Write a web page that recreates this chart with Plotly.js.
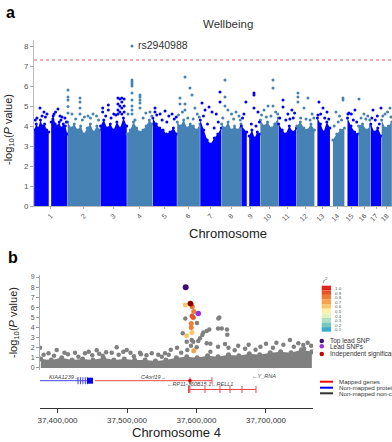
<!DOCTYPE html>
<html><head><meta charset="utf-8">
<script src="https://cdn.plot.ly/plotly-3.0.1.min.js"></script>
<style>html,body{margin:0;padding:0;background:#fff}#chart{width:392px;height:442px}</style>
</head><body><div id="chart"></div>
<script>
// ================= Panel a : Manhattan plot (Wellbeing) =================
const chrNames = ['1','2','3','4','5','6','7','8','9','10','11','12','13','14','15','16','17','18'];
const chrLengthMb = [249.25,243.2,198.0,191.15,180.9,171.1,159.1,146.4,141.2,135.5,135.0,133.9,115.2,107.3,102.5,90.4,81.2,78.1];
// dense band of SNPs: segments (chromosome, start, end in Mb) and the top of the dense cloud along each
const segChr     = [1,1,2,3,4,5,6,7,8,9,9,10,11,12,13,14,15,16,17,18];
const segStartMb = [0,126,0,0,0,0,0,0,0,0,58,0,0,0,19,19,20,0,0,0];
const segEndMb   = [111,249.25,243.2,198,191.15,180.9,171.1,159.1,146.4,43,141.2,135.5,135,133.9,115.2,107.3,102.5,90.4,81.2,78.1];
const segBandTop = [
  [3.8,4.1,3.9,4.3,4.0,4.1,3.8,3.7],
  [4.2,4.5,4.1,4.0,4.2,3.9,4.1,4.0,3.6],
  [4.2,3.9,4.1,3.8,4.0,3.6,3.9,4.1,3.7,4.0,3.8],
  [4.0,4.3,3.9,4.1,3.8,4.2,3.9,4.4,4.0],
  [3.6,3.8,4.2,3.9,3.7,3.8,4.0,4.3,4.1],
  [4.4,4.1,3.9,3.8,3.6,3.7,3.9,3.6],
  [4.2,4.0,4.3,3.9,4.1,4.0,3.8,4.1],
  [4.3,3.8,3.3,3.1,3.4,3.6,3.9],
  [4.1,3.9,4.2,3.8,4.0,3.8,4.1],
  [4.0,3.7],
  [3.5,3.8,3.4,3.7,3.6],
  [4.3,4.0,4.2,3.9,4.1,4.4],
  [4.1,3.8,3.6,4.0,3.7,3.9],
  [4.0,4.2,3.9,3.8,4.1,3.8],
  [4.4,4.1,3.7,4.2,3.9],
  [3.3,3.6,3.8,3.9],
  [4.4,4.0,3.7,3.6],
  [4.0,4.1,3.8,4.0],
  [4.1,3.7,3.9,3.5],
  [4.3,3.9,4.0,4.2]
];
// individual SNPs standing above the dense band (per chromosome)
const hitPosMb = [
  [22,44.6,74,96.6,148.6,178,193,208,60,160,230,10,85,140,200,240],
  [3.3,3.3,3.3,3.3,3.3,92.5,92.5,92.5,92.5,33,152,189,125,215,60,110,170,230],
  [17.9,17.9,59.5,59.5,100,131,131,131,131,145,145,145,160,160,160,160,177,177,177,40,80,115],
  [37.6,37.6,37.6,37.6,37.6,37.6,37.6,37.6,37.6,37.6,96.8,96.8,96.8,96.8,96.8,171,8,140,60,120,185],
  [17.5,17.5,54.7,91.8,143.9,30,120,70,105,160,175],
  [59,96,111,22,22,133,59,59,150,40,10,80,120,165],
  [148,148,14.4,66.4,89,37,120,25,55,105,135],
  [26,26,26,48,108,75,10,90,130,140],
  [35,95,95,95,125,20,10,75,110,135],
  [95,95,95,58,28,115,10,45,80,130],
  [34,34,100,70,120,10,55,85,110],
  [10,10,10,84,55,115,30,70,100,128],
  [32,62,92,45,25,75,105],
  [95.5,95.5,43,70,30,60,85],
  [33,77,50,25,65,90],
  [4.5,41,70,20,55,85],
  [18,77.5,50,10,35,65],
  [63,26,45,10,70]
];
const hitLogP = [
  [4.4,4.9,4.7,4.6,4.6,4.85,4.5,4.45,4.5,4.7,4.4,4.3,4.45,4.35,4.3,4.2],
  [5.8,5.45,5.3,4.97,4.65,5.4,5.2,4.9,4.6,4.6,4.5,4.6,4.45,4.5,4.35,4.3,4.4,4.3],
  [4.9,4.7,5.05,4.8,4.6,5.4,5.1,4.8,4.6,5.35,5.0,4.7,5.4,5.2,4.9,4.6,5.35,5.0,4.7,4.5,4.4,4.55],
  [8.0,6.3,6.2,6.1,6.0,5.65,5.3,5.0,4.8,4.6,5.55,5.45,5.3,5.15,4.9,4.7,4.6,4.65,4.3,4.4,4.5],
  [4.9,4.7,4.6,4.75,4.6,4.55,4.5,4.3,4.2,4.35,4.45],
  [6.45,5.9,5.55,5.4,5.1,4.9,5.1,4.8,4.6,4.7,4.55,4.4,4.35,4.45],
  [5.7,5.2,5.15,4.95,4.7,4.8,4.6,4.5,4.1,3.9,4.2],
  [6.3,5.45,5.0,4.8,4.7,4.6,4.4,4.35,4.5,4.3],
  [5.2,5.65,5.55,4.9,4.7,4.6,4.4,4.1,4.0,4.2],
  [6.3,5.9,5.0,5.0,4.8,4.7,4.55,4.45,4.5,4.6],
  [5.3,4.95,4.8,4.6,4.65,4.4,4.3,4.35,4.4],
  [5.65,5.45,5.2,5.4,4.9,4.6,4.4,4.35,4.3,4.4],
  [5.2,4.9,4.7,4.6,4.55,4.4,4.35],
  [5.4,5.3,4.7,4.5,4.0,4.2,4.3],
  [4.65,4.8,4.6,4.6,4.3,4.2],
  [5.35,4.6,4.5,4.4,4.35,4.3],
  [4.8,4.9,4.5,4.4,4.3,4.1],
  [4.9,4.6,4.7,4.5,4.45]
];
const leadSnpName = 'rs2940988';
const leadSnpChr = 4, leadSnpPosMb = 37.6, leadSnpLogP = 8.0;
const genomeWideLogP = 7.3;

// ================= Panel b : regional plot chr4 =================
const bandPosBp = [37376000,37391000,37406000,37421000,37436000,37451000,37466000,37481000,37496000,37511000,37526000,37541000,37556000,37571000,37586000,37601000,37616000,37631000,37646000,37661000,37676000,37691000,37706000,37721000,37736000,37751000,37766000];
const bandLogP  = [0.9,0.8,1.0,0.8,0.9,0.8,1.0,0.8,0.9,0.8,0.8,0.7,0.8,1.0,1.1,1.0,1.2,1.1,1.3,1.2,1.4,1.3,1.5,1.6,1.5,1.8,1.6];
const grayPosBp = [37374800,37398850,37456400,37485200,37494700,37499600,37478000,37535600,37425200,37439600,37518700,37554700,37580200,37583900,37600700,37593100,37585900,37602600,37614700,37586800,37600300,37605000,37608400,37609800,37614700,37618400,37631400,37632800,37631000,37636300,37643900,37644300,37641000,37595400,37734500,37746500,37753700,37660000,37675000,37692000,37646000,37631000,37620000,37592000,37572000,37563000,37410000,37460000,37520000,37700000,37715000,37725000,37760000,37387000,37445000,37470000,37505000,37545000,
  37380000,37395000,37415000,37430000,37450000,37465000,37488000,37510000,37528000,37550000,37560000,37578000,37620000,37655000,37670000,37685000,37710000,37740000,37755000,37765000];
const grayLogP  = [2.0,1.78,1.75,2.05,1.6,1.78,1.5,1.45,1.5,1.45,1.5,1.45,3.43,4.9,4.45,2.77,2.6,2.67,2.45,1.78,2.05,2.94,3.27,3.5,3.66,3.8,4.9,5.0,3.9,3.9,3.8,3.3,2.38,2.6,2.77,2.45,2.28,2.2,2.3,2.1,2.0,2.1,2.4,2.2,2.0,1.8,1.5,1.4,1.35,2.4,2.5,2.3,2.5,1.45,1.6,1.55,1.5,1.3,
  1.3,1.2,1.35,1.1,1.25,1.2,1.3,1.15,1.25,1.1,1.3,1.5,1.6,1.75,1.9,1.8,2.0,2.1,1.9,2.2];
const ldPosBp = [37583900,37594000,37596000,37593500,37595400,37592500,37592500,37593500,37585900,37596000,37592400];
const ldLogP  = [6.24,6.07,5.6,5.15,5.0,4.4,4.0,3.5,3.2,1.7,6.3];
const ldR2    = [0.6,0.8,0.8,0.9,0.9,0.8,0.8,0.6,0.6,0.7,1.0];
const indepPosBp = [37591100], indepLogP = [6.37];
const leadPosBp  = [37602600], leadLogP  = [5.38];
const topPosBp   = [37584450], topLogP   = [8.0];
const r2Levels = [1.0,0.9,0.8,0.7,0.6,0.5,0.4,0.3,0.2,0.1];
const r2Colors = ['#e2231a','#e9532a','#f07d34','#f5a24a','#f9c66c','#fdf0a8','#e4f3bd','#afdfc0','#74c7c2','#3aaccc'];
// genes
const geneName    = ['KIAA1239','C4orf19','RP11-360B15.1','RELL1','Y_RNA'];
const geneStartBp = [37374820,37453960,37588500,37589200,37697000];
const geneEndBp   = [37443880,37622300,37590500,37685610,37697300];
const geneStrand  = ['+','+','-','-','-'];
const geneRow     = [1,1,2,2,1];
const geneClass   = ['protein','mapped','mapped','mapped','noncoding'];
const geneExonsBp = [[37429500,37433000,37436500,37440000,37443000],[37590650,37622300],[37588500,37590500],[37589200,37612230,37633810,37648200,37665470,37685610],[]];
const geneBigExonBp = [[37446760],[37590650],[],[],[]];
const xTicksBp = [37400000,37500000,37600000,37700000];

// ================= build =================
const W = 392, H = 442;
const px = x => x / W, py = y => 1 - y / H;
const FONT = 'Liberation Sans, Arial, sans-serif';
const BLUE = '#0000ff', STEEL = '#4682b4';
const chrCum = []; let acc = 0;
chrLengthMb.forEach((l, i) => { chrCum.push(acc); acc += l; });
const genomeEnd = acc;
const chrColor = c => (c % 2 === 1 ? BLUE : STEEL);

const traces = [];
segChr.forEach((c, s) => {
  const vals = segBandTop[s];
  const a = segStartMb[s] + 1.5, b = segEndMb[s] - 1.5;
  const xs = vals.map((v, i) => chrCum[c - 1] + a + (b - a) * i / (vals.length - 1));
  traces.push({type: 'scatter', mode: 'lines+markers', x: xs, y: vals, xaxis: 'x', yaxis: 'y',
    fill: 'tozeroy', fillcolor: chrColor(c), line: {width: 0, color: chrColor(c)},
    marker: {size: 3, color: chrColor(c)}, hoverinfo: 'skip'});
});
[1, 0].forEach(par => {
  const xs = [], ys = [];
  hitPosMb.forEach((arr, i) => {
    if ((i + 1) % 2 !== par) return;
    arr.forEach((p, j) => { xs.push(chrCum[i] + p); ys.push(hitLogP[i][j]); });
  });
  traces.push({type: 'scatter', mode: 'markers', x: xs, y: ys, xaxis: 'x', yaxis: 'y',
    marker: {size: 3, color: par === 1 ? BLUE : STEEL}, cliponaxis: false, hoverinfo: 'skip'});
});

// panel b
const GRAY = '#808080';
traces.push({type: 'scatter', mode: 'lines+markers', x: bandPosBp, y: bandLogP, xaxis: 'x2', yaxis: 'y2',
  fill: 'tozeroy', fillcolor: GRAY, line: {width: 0, color: GRAY}, marker: {size: 5, color: GRAY}, hoverinfo: 'skip'});
traces.push({type: 'scatter', mode: 'markers', x: grayPosBp, y: grayLogP, xaxis: 'x2', yaxis: 'y2',
  marker: {size: 4.5, color: GRAY}, hoverinfo: 'skip'});
const r2Color = r => r2Colors[r2Levels.indexOf(r)];
traces.push({type: 'scatter', mode: 'markers', x: ldPosBp, y: ldLogP, xaxis: 'x2', yaxis: 'y2',
  marker: {size: 5, color: ldR2.map(r2Color)}, hoverinfo: 'skip'});
traces.push({type: 'scatter', mode: 'markers', x: indepPosBp, y: indepLogP, xaxis: 'x2', yaxis: 'y2',
  marker: {size: 5.5, color: '#8b0000'}, hoverinfo: 'skip'});
traces.push({type: 'scatter', mode: 'markers', x: leadPosBp, y: leadLogP, xaxis: 'x2', yaxis: 'y2',
  marker: {size: 5.5, color: '#9b30d9'}, hoverinfo: 'skip'});
traces.push({type: 'scatter', mode: 'markers', x: topPosBp, y: topLogP, xaxis: 'x2', yaxis: 'y2',
  marker: {size: 6, color: '#3f0f72'}, hoverinfo: 'skip'});

// gene track (y3: pixel-like units, 0 at axis line)
const rowY = r => (r === 1 ? 27.3 : 18.5);
const classColor = {mapped: '#ee4444', protein: '#4444ee', noncoding: '#333333'};
const annotations = [];
geneName.forEach((g, i) => {
  const col = classColor[geneClass[i]];
  const y = rowY(geneRow[i]);
  traces.push({type: 'scatter', mode: 'lines', x: [geneStartBp[i], geneEndBp[i]], y: [y, y], xaxis: 'x2', yaxis: 'y3',
    line: {color: col, width: 1}, hoverinfo: 'skip'});
  if (geneExonsBp[i].length)
    traces.push({type: 'scatter', mode: 'markers', x: geneExonsBp[i], y: geneExonsBp[i].map(() => y), xaxis: 'x2', yaxis: 'y3',
      marker: {symbol: 'line-ns', size: 5, line: {width: 1, color: col}}, hoverinfo: 'skip'});
  if (geneBigExonBp[i].length)
    traces.push({type: 'scatter', mode: 'markers', x: geneBigExonBp[i], y: geneBigExonBp[i].map(() => y), xaxis: 'x2', yaxis: 'y3',
      marker: {symbol: 'square', size: geneClass[i] === 'protein' ? 6 : 3, color: geneClass[i] === 'protein' ? '#0000ff' : '#cc0000'}, hoverinfo: 'skip'});
  const label = geneStrand[i] === '+' ? g + '\u2192' : '\u2190' + g;
  annotations.push({xref: 'x2', yref: 'y3', x: (geneStartBp[i] + geneEndBp[i]) / 2,
    y: geneRow[i] === 1 ? (geneClass[i] === 'noncoding' ? 32 : 31) : 24, text: '<i>' + label + '</i>',
    xanchor: 'center', yanchor: 'middle',
    showarrow: false, font: {family: FONT, size: 5.5, color: '#444'}});
});

// ---- text annotations ----
const A = (text, x, y, o = {}) => annotations.push(Object.assign({xref: 'paper', yref: 'paper', x: px(x), y: py(y), text,
  xanchor: 'center', yanchor: 'middle',
  showarrow: false, font: {family: FONT, size: 11, color: '#222'}}, o));
A('<b>a</b>', 10, 12, {font: {family: FONT, size: 16, color: '#000'}});
A('<b>b</b>', 13, 257, {font: {family: FONT, size: 16, color: '#000'}});
A('Wellbeing', 228, 24, {font: {family: FONT, size: 11.5, color: '#333'}});
A('Chromosome', 228, 233, {font: {family: FONT, size: 13, color: '#222'}});
A('Chromosome 4', 176.5, 432, {font: {family: FONT, size: 13, color: '#222'}});
A('-log<sub>10</sub>(<i>P</i> value)', 9, 130, {textangle: -90, font: {family: FONT, size: 11, color: '#222'}});
A('-log<sub>10</sub>(<i>P</i> value)', 14, 323, {textangle: -90, font: {family: FONT, size: 11, color: '#222'}});
annotations.push({xref: 'x', yref: 'y', x: chrCum[leadSnpChr - 1] + leadSnpPosMb, y: leadSnpLogP, text: leadSnpName,
  showarrow: false, xanchor: 'left', yanchor: 'middle', xshift: 4, yshift: 1, font: {family: FONT, size: 10.5, color: '#333'}});

// ---- legends of panel b ----
const shapes = [];
shapes.push({type: 'line', xref: 'paper', yref: 'y', x0: px(34), x1: 1, y0: genomeWideLogP, y1: genomeWideLogP,
  line: {color: '#e8545a', width: 1, dash: 'dot'}});
const cbTop = 285.7, cbBot = 331.7, cbL = 321.7, cbR = 331;
const bh = (cbBot - cbTop) / r2Levels.length;
r2Levels.forEach((r, i) => {
  shapes.push({type: 'rect', xref: 'paper', yref: 'paper', x0: px(cbL), x1: px(cbR), y0: py(cbTop + i * bh), y1: py(cbTop + (i + 1) * bh),
    fillcolor: r2Colors[i], line: {width: 0}});
  A(r.toFixed(1), 333, cbTop + (i + 0.5) * bh + 0.5, {xanchor: 'left', font: {family: FONT, size: 4.4, color: '#555'}});
});
A('<i>r</i><sup>2</sup>', 325, 280, {font: {family: FONT, size: 6, color: '#444'}});
const ptLegend = [['Top lead SNP', '#3f0f72', 341], ['Lead SNPs', '#9b30d9', 346.3], ['Independent significant SNPs', '#cc0000', 354]];
ptLegend.forEach(([t, c, y]) => {
  shapes.push({type: 'circle', xref: 'paper', yref: 'paper', x0: px(319.5), x1: px(324), y0: py(y + 2.2), y1: py(y - 2.2),
    fillcolor: c, line: {width: 0}});
  A(t, 328, y, {xanchor: 'left', font: {family: FONT, size: 6.5, color: '#333'}});
});
const lnLegend = [['Mapped genes', '#ff0000', 381.7], ['Non-mapped protein coding genes', '#0000ff', 387.7], ['Non-mapped non-coding genes', '#333333', 393.3]];
lnLegend.forEach(([t, c, y]) => {
  shapes.push({type: 'line', xref: 'paper', yref: 'paper', x0: px(320), x1: px(333), y0: py(y), y1: py(y), line: {color: c, width: 2}});
  A(t, 337, y, {xanchor: 'left', font: {family: FONT, size: 6.2, color: '#333'}});
});

const layout = {
  width: W, height: H, margin: {l: 0, r: 0, t: 0, b: 0}, paper_bgcolor: '#fff', plot_bgcolor: 'rgba(0,0,0,0)',
  showlegend: false, font: {family: FONT},
  xaxis: {domain: [px(34), 1], range: [0, genomeEnd], anchor: 'y',
    tickvals: chrLengthMb.map((l, i) => chrCum[i] + l / 2), ticktext: chrNames, tickangle: -45,
    tickfont: {size: 7, color: '#555'}, ticks: 'outside', ticklen: 2, tickcolor: '#aaa',
    showline: true, linecolor: '#bbb', linewidth: 1, showgrid: false, zeroline: false},
  yaxis: {domain: [py(206), py(40)], range: [0, 8.3], anchor: 'x', tickvals: [0,1,2,3,4,5,6,7,8],
    tickfont: {size: 8, color: '#555'}, ticks: 'outside', ticklen: 3, tickcolor: '#aaa',
    showline: true, linecolor: '#bbb', showgrid: false, zeroline: false},
  xaxis2: {domain: [px(40), px(313)], range: [37374820, 37767640], anchor: 'y3',
    tickvals: xTicksBp, tickformat: ',d', tickfont: {size: 8, color: '#333'}, ticks: 'outside', ticklen: 4, tickcolor: '#333',
    showline: true, linecolor: '#333', linewidth: 1, showgrid: false, zeroline: false},
  yaxis2: {domain: [py(370), py(275)], range: [-0.2, 9.2], anchor: 'x2', tickvals: [0,1,2,3,4,5,6,7,8,9],
    tickfont: {size: 7, color: '#555'}, ticks: 'outside', ticklen: 3, tickcolor: '#999',
    showline: true, linecolor: '#aaa', showgrid: false, zeroline: false},
  yaxis3: {domain: [py(408), py(372)], range: [0, 36], anchor: 'x2', visible: false},
  annotations, shapes
};
Plotly.newPlot('chart', traces, layout, {staticPlot: true, displayModeBar: false});
</script></body></html>
